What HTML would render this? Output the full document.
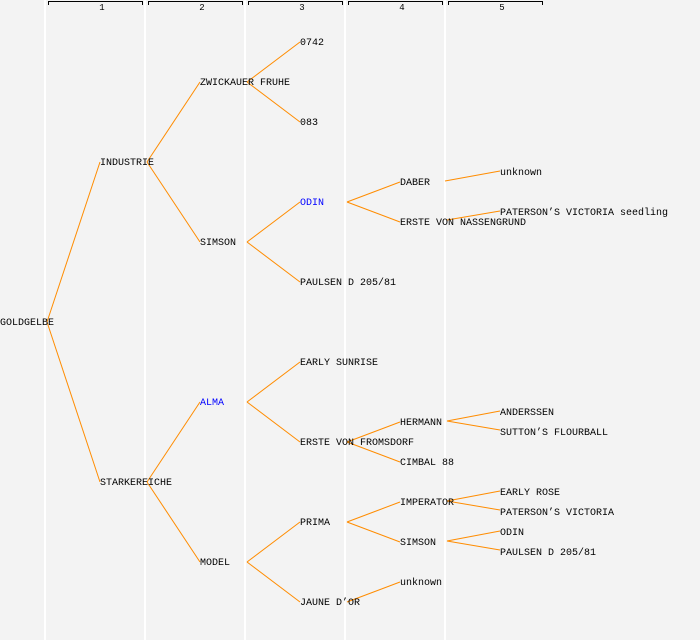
<!DOCTYPE html>
<html><head><meta charset="utf-8"><style>
html,body{margin:0;padding:0;background:#f3f3f3;}
svg{display:block;}
text{font-family:"Liberation Mono","DejaVu Sans Mono",monospace;font-size:10px;fill:#000;}
</style></head><body>
<svg width="700" height="640" viewBox="0 0 700 640" xmlns="http://www.w3.org/2000/svg">
<rect width="700" height="640" fill="#f3f3f3"/>
<g stroke="#ffffff" stroke-width="2">
<line x1="45" y1="0" x2="45" y2="640"/>
<line x1="145" y1="0" x2="145" y2="640"/>
<line x1="245" y1="0" x2="245" y2="640"/>
<line x1="345" y1="0" x2="345" y2="640"/>
<line x1="445" y1="0" x2="445" y2="640"/>
</g>
<g stroke="#000" stroke-width="1" fill="none">
<path d="M48.5 5V1.5H142.5V5"/>
<path d="M148.5 5V1.5H242.5V5"/>
<path d="M248.5 5V1.5H342.5V5"/>
<path d="M348.5 5V1.5H442.5V5"/>
<path d="M448.5 5V1.5H542.5V5"/>
</g>
<g text-anchor="middle">
<text x="102" y="10" style="font-size:9px">1</text>
<text x="202" y="10" style="font-size:9px">2</text>
<text x="302" y="10" style="font-size:9px">3</text>
<text x="402" y="10" style="font-size:9px">4</text>
<text x="502" y="10" style="font-size:9px">5</text>
</g>
<g stroke="#ff8c00" stroke-width="1" fill="none">
<line x1="47" y1="322" x2="100" y2="162"/>
<line x1="47" y1="322" x2="100" y2="482"/>
<line x1="147" y1="162" x2="200" y2="82"/>
<line x1="147" y1="162" x2="200" y2="242"/>
<line x1="147" y1="482" x2="200" y2="402"/>
<line x1="147" y1="482" x2="200" y2="562"/>
<line x1="247" y1="82" x2="300" y2="42"/>
<line x1="247" y1="82" x2="300" y2="122"/>
<line x1="247" y1="242" x2="300" y2="202"/>
<line x1="247" y1="242" x2="300" y2="282"/>
<line x1="247" y1="402" x2="300" y2="362"/>
<line x1="247" y1="402" x2="300" y2="442"/>
<line x1="247" y1="562" x2="300" y2="522"/>
<line x1="247" y1="562" x2="300" y2="602"/>
<line x1="347" y1="202" x2="400" y2="182"/>
<line x1="347" y1="202" x2="400" y2="222"/>
<line x1="347" y1="442" x2="400" y2="422"/>
<line x1="347" y1="442" x2="400" y2="462"/>
<line x1="347" y1="522" x2="400" y2="502"/>
<line x1="347" y1="522" x2="400" y2="542"/>
<line x1="347" y1="602" x2="400" y2="582"/>
<line x1="445" y1="181" x2="500" y2="171"/>
<line x1="447" y1="220" x2="500" y2="211"/>
<line x1="447" y1="421" x2="500" y2="411"/>
<line x1="447" y1="421" x2="500" y2="430"/>
<line x1="447" y1="501" x2="500" y2="491"/>
<line x1="447" y1="501" x2="500" y2="510"/>
<line x1="447" y1="541" x2="500" y2="531"/>
<line x1="447" y1="541" x2="500" y2="550"/>
</g>
<g>
<text x="0" y="325">GOLDGELBE</text>
<text x="100" y="165">INDUSTRIE</text>
<text x="100" y="485">STARKEREICHE</text>
<text x="200" y="85">ZWICKAUER FRUHE</text>
<text x="200" y="245">SIMSON</text>
<text x="200" y="405" style="fill:#0000ff">ALMA</text>
<text x="200" y="565">MODEL</text>
<text x="300" y="45">0742</text>
<text x="300" y="125">083</text>
<text x="300" y="205" style="fill:#0000ff">ODIN</text>
<text x="300" y="285">PAULSEN D 205/81</text>
<text x="300" y="365">EARLY SUNRISE</text>
<text x="300" y="445">ERSTE VON FROMSDORF</text>
<text x="300" y="525">PRIMA</text>
<text x="300" y="605">JAUNE D’OR</text>
<text x="400" y="185">DABER</text>
<text x="400" y="225">ERSTE VON NASSENGRUND</text>
<text x="400" y="425">HERMANN</text>
<text x="400" y="465">CIMBAL 88</text>
<text x="400" y="505">IMPERATOR</text>
<text x="400" y="545">SIMSON</text>
<text x="400" y="585">unknown</text>
<text x="500" y="175">unknown</text>
<text x="500" y="215">PATERSON’S VICTORIA seedling</text>
<text x="500" y="415">ANDERSSEN</text>
<text x="500" y="435">SUTTON’S FLOURBALL</text>
<text x="500" y="495">EARLY ROSE</text>
<text x="500" y="515">PATERSON’S VICTORIA</text>
<text x="500" y="535">ODIN</text>
<text x="500" y="555">PAULSEN D 205/81</text>
</g>
</svg>
</body></html>
